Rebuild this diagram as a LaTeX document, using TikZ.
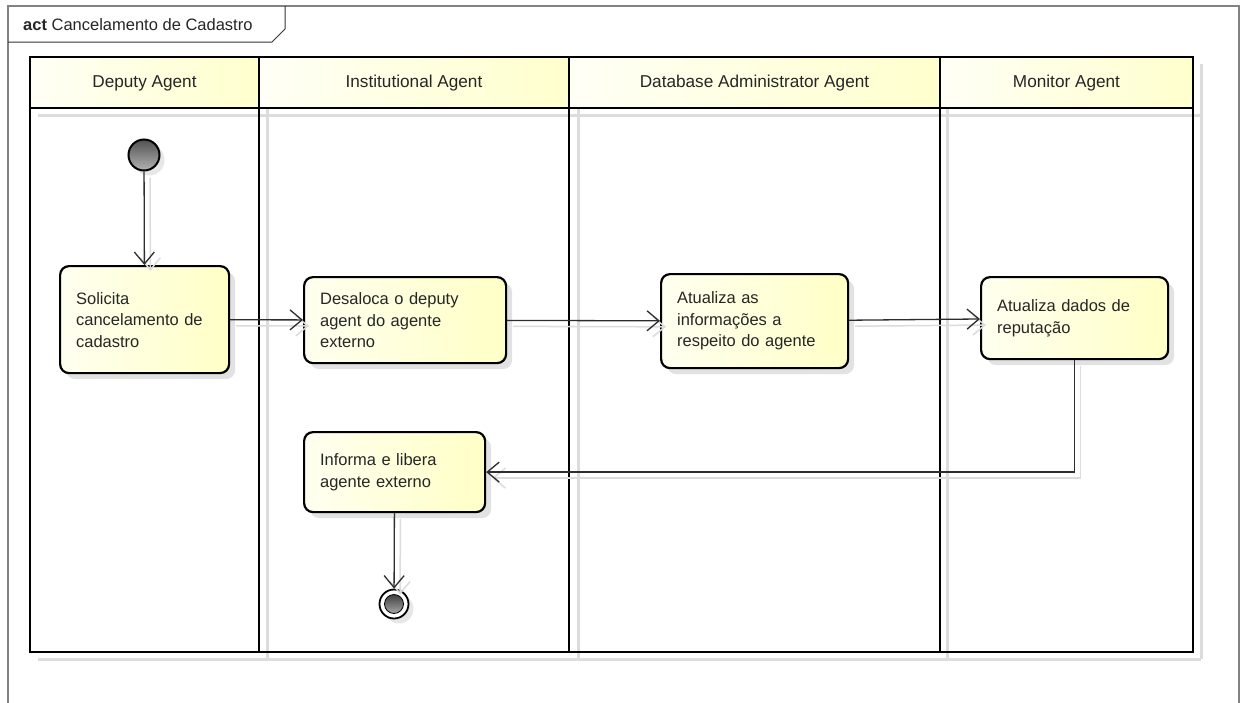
\documentclass[tikz,border=0pt]{standalone}
\usepackage{fontspec}
\setmainfont{Liberation Sans}
\usetikzlibrary{arrows.meta,shadows,calc}
\definecolor{nodeA}{RGB}{255,255,240}
\definecolor{nodeB}{RGB}{255,255,198}
\definecolor{headA}{RGB}{255,255,246}
\definecolor{headB}{RGB}{255,255,205}
\definecolor{lineC}{RGB}{45,45,45}
\definecolor{shadowC}{RGB}{220,220,220}
\definecolor{frameC}{RGB}{130,130,130}
\begin{document}
\begin{tikzpicture}[x=1pt,y=-1pt,
  every node/.style={font=\fontsize{16.5}{21.5}\selectfont, text=black!85},
  activity/.style={draw=black, line width=2.2pt, rounded corners=9pt,
    left color=nodeA, right color=nodeB, anchor=north west,
    drop shadow={shadow xshift=6pt, shadow yshift=-6pt, fill=black!22},
    align=left, inner xsep=16pt, inner ysep=0pt},
  lanename/.style={font=\fontsize{17.2}{20}\selectfont},
  arr/.style={draw=lineC, line width=1.3pt, -{Straight Barb[length=12pt,width=20pt]}},
  arrshadow/.style={draw=shadowC, line width=1.5pt, -{Straight Barb[length=12pt,width=20pt]},
    transform canvas={xshift=6pt,yshift=-6pt}},
  laneshadow/.style={draw=shadowC, line width=3pt},
  laneline/.style={draw=black, line width=2.6pt}
]
\useasboundingbox (0,0) rectangle (1248,702);
\fill[white] (0,0) rectangle (1248,702);

% outer frame and title tab
\draw[frameC, line width=1.6pt] (8,712) -- (8,6) -- (1239,6) -- (1239,712);
\draw[black!80, line width=1pt] (8,42) -- (272,42) -- (285,29) -- (285,6);
\node[anchor=west, inner sep=0pt] (title) at (23,25) {\textbf{act} Cancelamento de Cadastro};

% lane shadows
\draw[laneshadow] (38,115) -- (1201,115);
\draw[laneshadow] (38,659) -- (1201,659);
\draw[laneshadow] (267,64) -- (267,659);
\draw[laneshadow] (578,64) -- (578,659);
\draw[laneshadow] (947,64) -- (947,659);
\draw[laneshadow] (1201,64) -- (1201,659);

% lane headers
\shade[left color=headA, right color=headB] (30,57) rectangle (259,108);
\shade[left color=headA, right color=headB] (259,57) rectangle (569,108);
\shade[left color=headA, right color=headB] (569,57) rectangle (940,108);
\shade[left color=headA, right color=headB] (940,57) rectangle (1193,108);

\draw[laneline] (30,57) rectangle (1193,652);
\draw[laneline] (30,108) -- (1193,108);
\draw[laneline] (259,57) -- (259,652);
\draw[laneline] (569,57) -- (569,652);
\draw[laneline] (940,57) -- (940,652);

\node[lanename] (l1) at (144.5,83) {Deputy Agent};
\node[lanename] (l2) at (414,83) {Institutional Agent};
\node[lanename] (l3) at (754.5,83) {Database Administrator Agent};
\node[lanename] (l4) at (1066.5,83) {Monitor Agent};

% start and end
\node[circle, draw=black, line width=2pt, minimum size=31pt, inner sep=0pt,
  top color=black!68, bottom color=black!30,
  drop shadow={shadow xshift=5pt, shadow yshift=-5pt, fill=black!18}] (start) at (144,155) {};
\node[circle, draw=black, line width=1.8pt, fill=white, minimum size=29pt, inner sep=0pt,
  drop shadow={shadow xshift=5pt, shadow yshift=-5pt, fill=black!18}] (end) at (394,604) {};
\node[circle, draw=black, line width=0.8pt, minimum size=19pt, inner sep=0pt,
  top color=black!75, bottom color=black!35] (endcore) at (394,604) {};

% activities
\node[activity, minimum width=169pt, minimum height=107pt, text width=137pt] (sol) at (59,265)
  {Solicita\\cancelamento de\\cadastro};
\node[activity, minimum width=202pt, minimum height=86pt, text width=170pt] (des) at (303,276)
  {Desaloca o deputy\\agent do agente\\externo};
\node[activity, minimum width=187pt, minimum height=94pt, text width=155pt] (atu) at (660,273)
  {Atualiza as\\informações a\\respeito do agente};
\node[activity, minimum width=187pt, minimum height=82pt, text width=155pt] (rep) at (980,276)
  {Atualiza dados de\\reputação};
\node[activity, minimum width=181pt, minimum height=80pt, text width=149pt] (inf) at (303,431)
  {Informa e libera\\agente externo};

% connector shadows
\draw[arrshadow] (start) -- (sol);
\draw[arrshadow] (sol) -- (des);
\draw[arrshadow] (des) -- (atu);
\draw[arrshadow] (atu) -- (rep);
\draw[arrshadow] (rep.south) |- (inf.east);
\draw[arrshadow] (inf) -- (end);

% connectors
\draw[arr] (start) -- (sol);
\draw[arr] (sol) -- (des);
\draw[arr] (des) -- (atu);
\draw[arr] (atu) -- (rep);
\draw[arr] (rep.south) |- (inf.east);
\draw[arr] (inf) -- (end);
\end{tikzpicture}
\end{document}
